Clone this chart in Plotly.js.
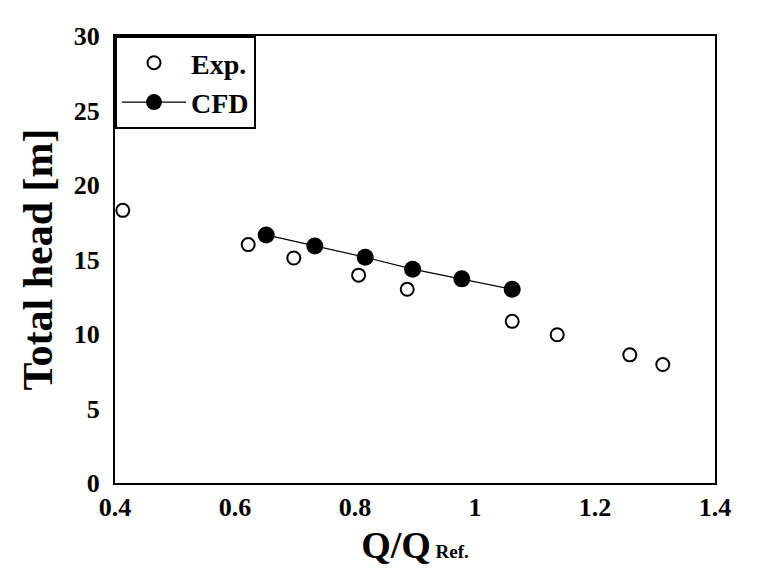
<!DOCTYPE html>
<html>
<head>
<meta charset="utf-8">
<script src="https://cdn.plot.ly/plotly-3.0.1.min.js"></script>
<style>html,body{margin:0;padding:0;background:#fff;}#chart{width:777px;height:582px;}</style>
</head>
<body>
<div id="chart"></div>
<script>
const expQ = [0.413, 0.622, 0.698, 0.806, 0.887, 1.062, 1.137, 1.258, 1.313];
const expHead = [18.3, 16.0, 15.1, 13.95, 13.0, 10.85, 9.95, 8.6, 7.95];
const cfdQ = [0.652, 0.733, 0.817, 0.896, 0.978, 1.062];
const cfdHead = [16.65, 15.9, 15.15, 14.35, 13.7, 13.0];
const xTicks = [0.4, 0.6, 0.8, 1, 1.2, 1.4];
const yTicks = [0, 5, 10, 15, 20, 25, 30];

const font = {family: 'Liberation Serif, Times New Roman, serif', color: '#000'};

const data = [
  {x: expQ, y: expHead, name: 'Exp.', mode: 'markers', type: 'scatter',
   marker: {symbol: 'circle-open', size: 13, color: '#000', line: {width: 2, color: '#000'}}},
  {x: cfdQ, y: cfdHead, name: 'CFD', mode: 'lines+markers', type: 'scatter',
   line: {color: '#000', width: 1.2},
   marker: {symbol: 'circle', size: 17, color: '#000'}}
];

const layout = {
  width: 777, height: 582,
  margin: {l: 115, r: 62, t: 36, b: 99},
  paper_bgcolor: '#fff', plot_bgcolor: '#fff',
  font: Object.assign({size: 26, weight: 'bold'}, font),
  showlegend: true,
  legend: {x: 0, y: 1, xanchor: 'left', yanchor: 'top', bgcolor: '#fff',
           bordercolor: '#000', borderwidth: 2, itemwidth: 64,
           font: Object.assign({size: 28, weight: 'bold'}, font),
           tracegroupgap: 0},
  xaxis: {range: [0.4, 1.4], tickvals: xTicks, ticktext: xTicks.map(String),
          showgrid: false, zeroline: false, showline: true, mirror: true,
          linecolor: '#000', linewidth: 2, ticks: '',
          tickfont: Object.assign({size: 26, weight: 'bold'}, font),
          title: {text: 'Q/Q<span style="font-size:19px"> Ref.</span>', standoff: 10,
                  font: Object.assign({size: 38, weight: 'bold'}, font)}},
  yaxis: {range: [0, 30], tickvals: yTicks, showgrid: false, zeroline: false,
          showline: true, mirror: true, linecolor: '#000', linewidth: 2, ticks: '',
          ticklabelstandoff: 8,
          tickfont: Object.assign({size: 26, weight: 'bold'}, font),
          title: {text: 'Total head [m]', standoff: 8,
                  font: Object.assign({size: 42, weight: 'bold'}, font)}}
};

Plotly.newPlot('chart', data, layout, {displayModeBar: false, staticPlot: true});
</script>
</body>
</html>
